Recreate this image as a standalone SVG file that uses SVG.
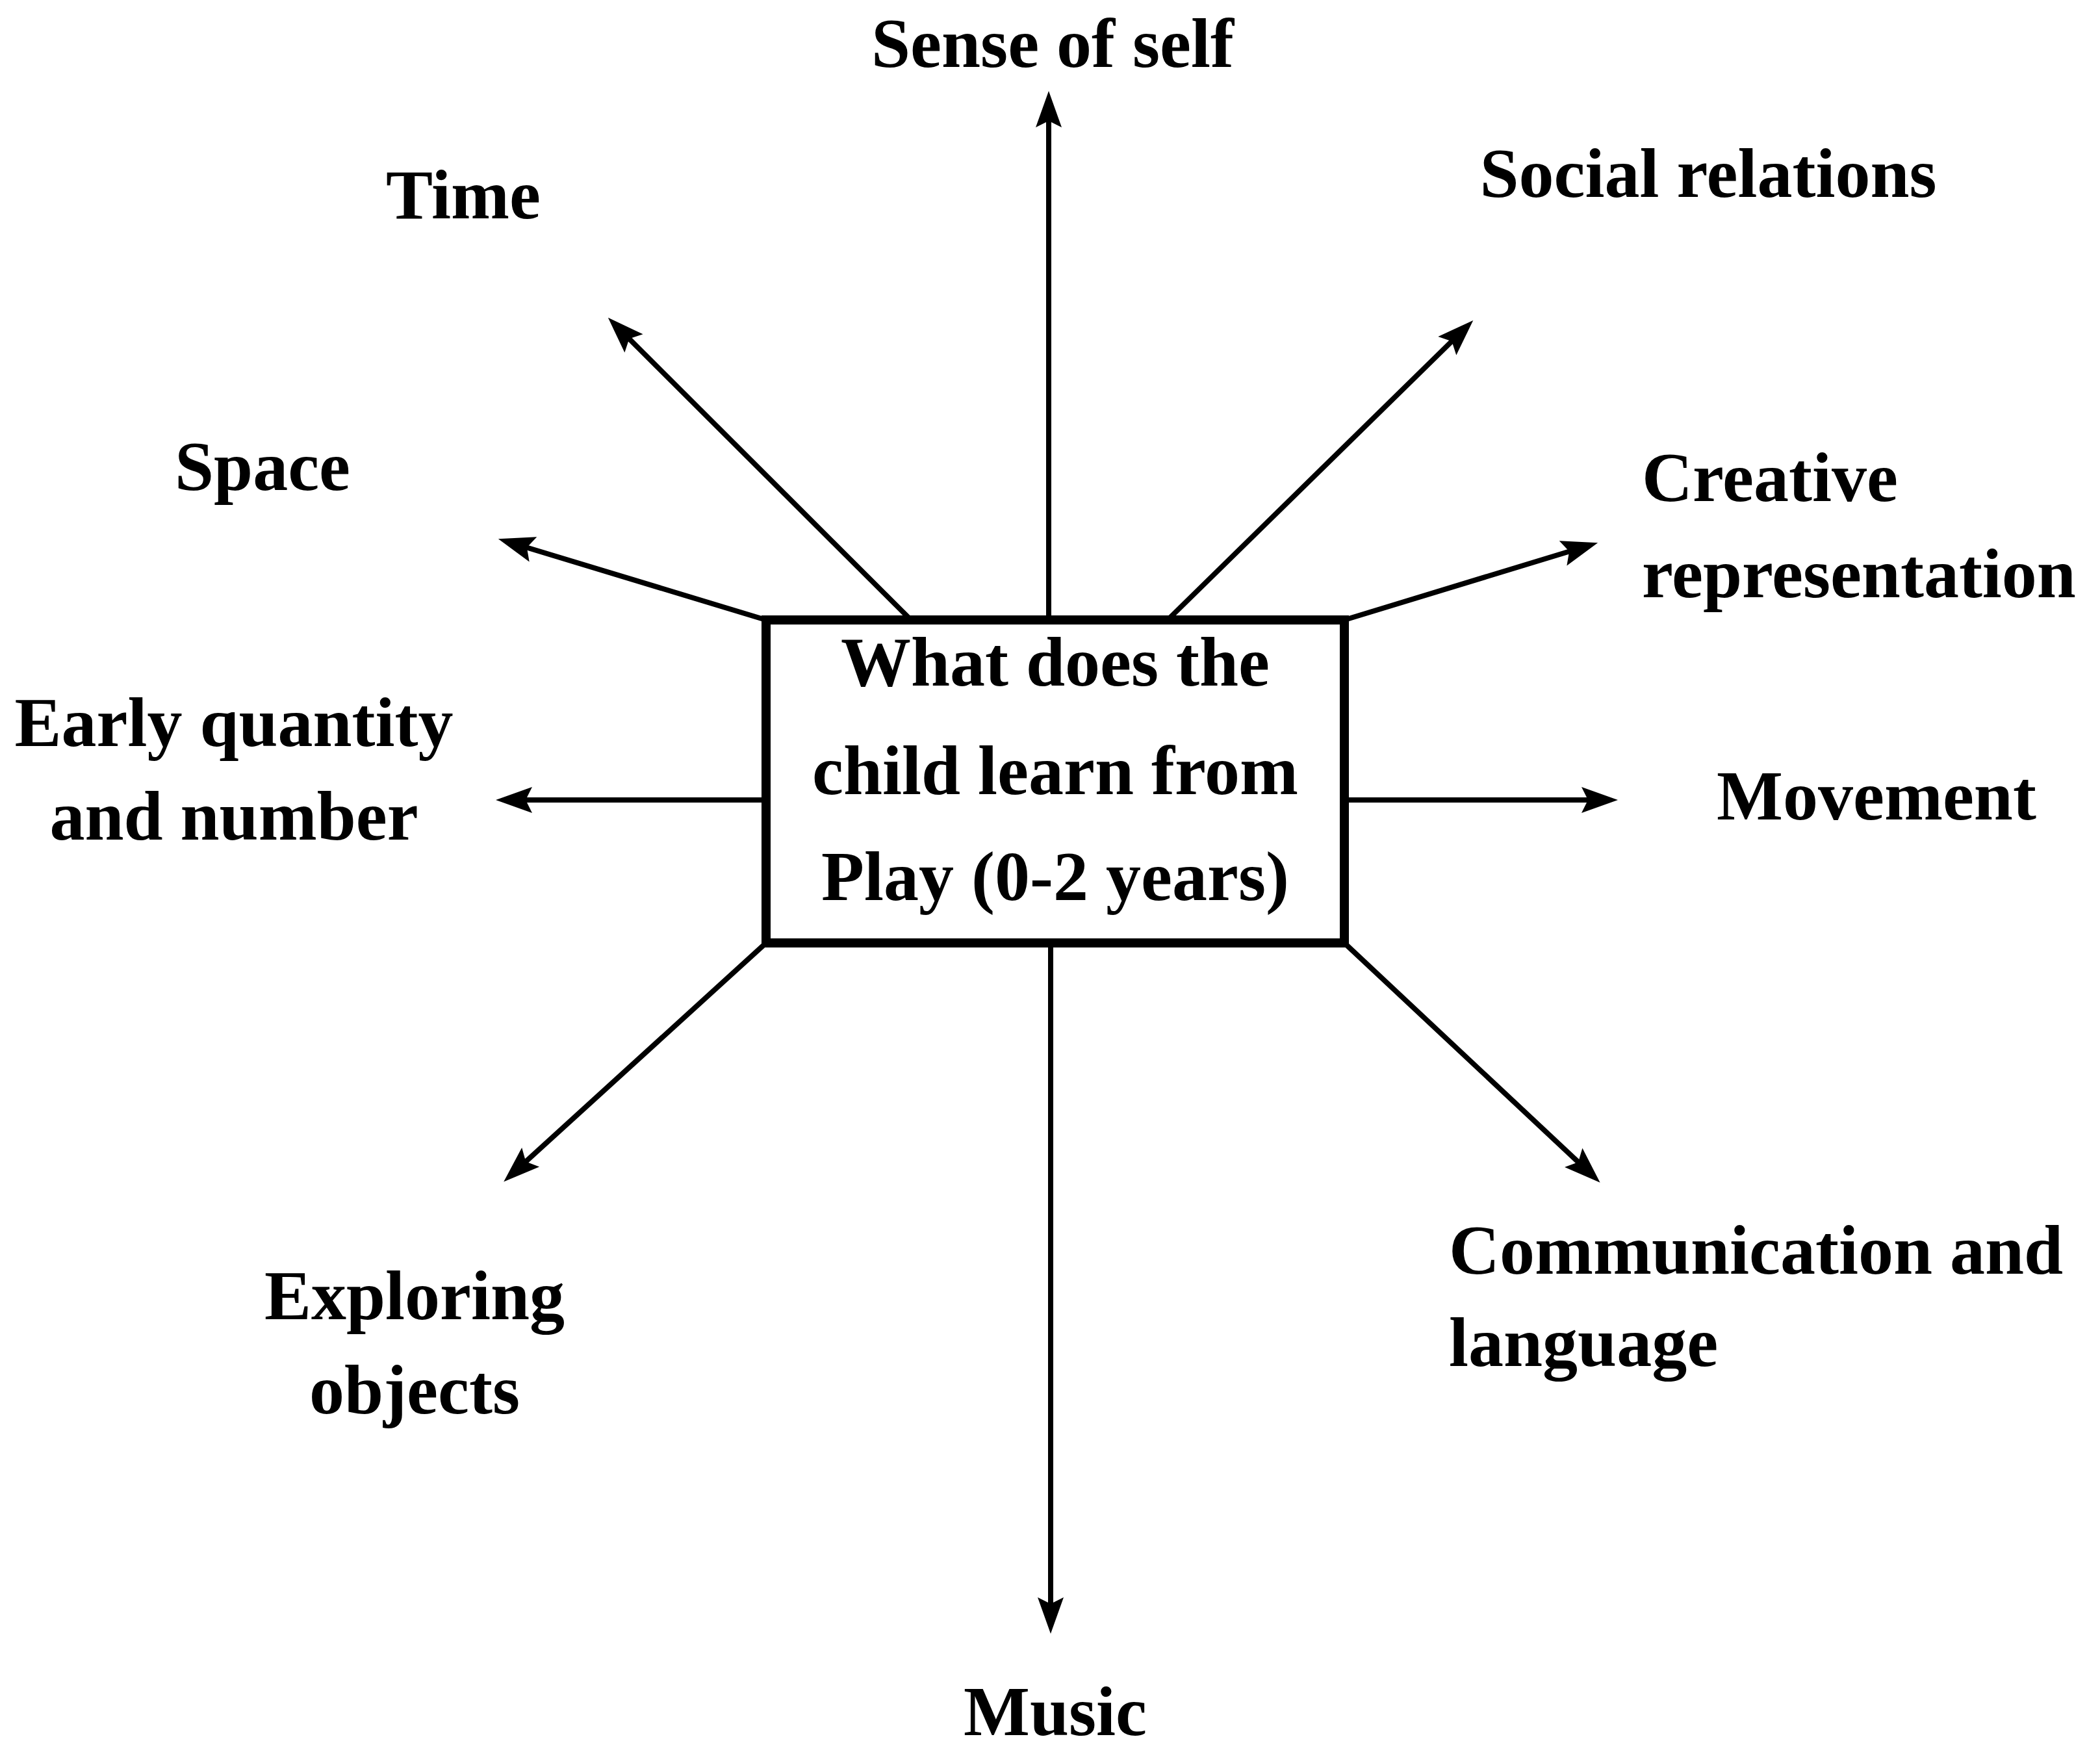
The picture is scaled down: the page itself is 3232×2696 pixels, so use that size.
<svg xmlns="http://www.w3.org/2000/svg" width="3232" height="2696" viewBox="0 0 3232 2696">
<style>
.lbl{font-family:"Liberation Serif","Times New Roman",serif;font-weight:bold;font-size:108px;fill:#000}
.c{text-anchor:middle}
.l{text-anchor:start}
.con{stroke:#000;stroke-width:8;fill:none;marker-end:url(#ah)}
</style>
<defs>
<marker id="ah" markerUnits="userSpaceOnUse" viewBox="0 0 60 46" refX="38" refY="23" markerWidth="60" markerHeight="46" orient="auto">
<path d="M58,23 L2,3 L12,23 L2,43 Z" fill="#000"/>
</marker>
</defs>
<rect width="3232" height="2696" fill="#fff"/>
<g id="connectors">
<line class="con" x1="1614" y1="954" x2="1614" y2="160"/>
<line class="con" x1="1617" y1="1451" x2="1617" y2="2494"/>
<line class="con" x1="1402" y1="954" x2="950" y2="503"/>
<line class="con" x1="1179" y1="954" x2="786" y2="835"/>
<line class="con" x1="1179" y1="1231" x2="783" y2="1231"/>
<line class="con" x1="1179" y1="1451" x2="790" y2="1805"/>
<line class="con" x1="1797" y1="954" x2="2253" y2="507"/>
<line class="con" x1="2069" y1="954" x2="2440" y2="841"/>
<line class="con" x1="2069" y1="1231" x2="2470" y2="1231"/>
<line class="con" x1="2069" y1="1451" x2="2448" y2="1806"/>
</g>
<g id="center">
<rect x="1179" y="954" width="890" height="497" fill="#fff" stroke="#000" stroke-width="14"/>
<text class="lbl c" x="1624" y="1055">What does the</text>
<text class="lbl c" x="1624" y="1222">child learn from</text>
<text class="lbl c" x="1624" y="1385">Play (0-2 years)</text>
</g>
<g id="sense-of-self"><text class="lbl c" x="1620" y="103">Sense of self</text></g>
<g id="time"><text class="lbl c" x="713" y="336">Time</text></g>
<g id="social-relations"><text class="lbl c" x="2629" y="303">Social relations</text></g>
<g id="space"><text class="lbl c" x="404" y="754">Space</text></g>
<g id="creative-representation">
<text class="lbl l" x="2527" y="771">Creative</text>
<text class="lbl l" x="2527" y="919">representation</text>
</g>
<g id="early-quantity">
<text class="lbl c" x="360" y="1148">Early quantity</text>
<text class="lbl c" x="360" y="1292">and number</text>
</g>
<g id="movement"><text class="lbl c" x="2888" y="1261">Movement</text></g>
<g id="communication">
<text class="lbl l" x="2230" y="1960">Communication and</text>
<text class="lbl l" x="2230" y="2102">language</text>
</g>
<g id="exploring-objects">
<text class="lbl c" x="638" y="2030">Exploring</text>
<text class="lbl c" x="638" y="2175">objects</text>
</g>
<g id="music"><text class="lbl c" x="1624" y="2670">Music</text></g>
</svg>
